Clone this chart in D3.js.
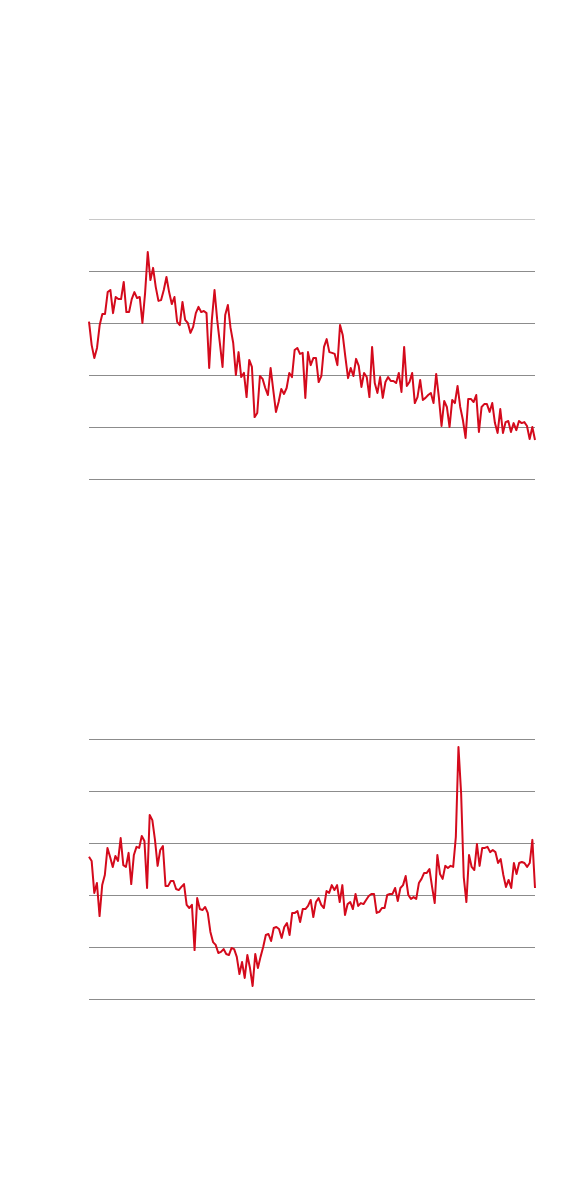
<!DOCTYPE html>
<meta charset="utf-8">
<style>
body { margin: 0; background: #fff; }
.grid line { stroke: #8c8c8c; stroke-width: 1px; shape-rendering: crispEdges; }
.grid .top line { stroke: #c8c8c8; }
.line { fill: none; stroke: #d40a1c; stroke-width: 2px; stroke-linejoin: round; }
</style>
<svg width="576" height="1192"></svg>
<script src="https://d3js.org/d3.v7.min.js"></script>
<script>

// values, scale 0..100 (gridline every 20)
var gridTicks = [0, 20, 40, 60, 80, 100];

var seriesA = [
  60.5, 51.5, 46.5, 50.4, 59.2, 63.5, 63.5, 71.9, 72.7, 63.8,
  70.0, 69.2, 69.2, 75.8, 64.2, 64.2, 69.2, 71.9, 69.6, 70.0,
  60.0, 71.5, 87.3, 76.5, 81.2, 73.8, 68.5, 68.8, 72.7, 77.7,
  71.9, 67.3, 70.0, 60.4, 59.2, 68.1, 61.2, 60.0, 56.2, 58.5,
  63.8, 66.2, 64.2, 64.6, 63.8, 42.7, 61.2, 72.7, 61.2, 52.3,
  43.1, 63.1, 66.9, 58.1, 52.3, 40.0, 48.8, 39.2,
  40.8, 31.5, 45.8, 43.1, 23.8, 25.4, 39.6, 38.5, 35.0, 32.3,
  42.7, 34.2, 25.8, 29.6, 34.6, 32.7, 35.0, 40.8, 39.2, 49.6,
  50.4, 48.1, 48.5, 31.2, 48.8, 43.8, 46.5, 46.5, 37.3, 39.6,
  50.8, 53.8, 48.8, 48.5, 48.1, 43.8, 59.2, 55.4, 46.9, 38.8,
  42.7, 39.6, 46.2, 43.5, 35.4, 40.8, 39.2, 31.5, 50.8, 36.9,
  33.1, 39.2, 31.2, 37.3, 39.2,
  37.7, 37.7, 36.9, 40.8, 33.5, 50.8, 35.8, 37.3, 40.8, 29.2,
  31.5, 38.1, 30.4, 31.2, 32.3, 33.1, 29.2, 40.4, 31.5, 20.4,
  30.0, 27.7, 20.0, 30.4, 29.2, 35.8, 27.7, 22.7, 15.8, 30.8,
  30.8, 29.6, 32.3, 18.1, 27.7, 28.8, 28.8, 25.8, 29.2, 21.5,
  17.7, 26.9, 17.7, 21.9, 22.3, 18.1, 21.5, 18.8, 22.3, 21.5,
  21.9, 20.4, 15.4, 20.0, 15.0
];

var seriesB = [
  54.7, 53.1, 40.8, 44.6, 31.9, 43.8, 47.7, 58.1, 54.6, 50.8,
  55.0, 53.1, 61.9, 51.5, 50.8, 56.2, 44.2, 55.4, 58.5, 58.1,
  62.7, 60.8, 42.7, 70.8, 68.8, 61.2, 51.2, 57.3, 58.8, 43.5,
  43.5, 45.4, 45.4, 42.3, 41.9, 43.1, 44.2, 36.2, 35.0, 36.2,
  18.8, 38.8, 34.6, 34.2, 35.4, 33.1, 25.8, 21.9, 20.8, 17.7,
  18.1, 19.2, 17.3, 16.9, 19.6, 19.2, 16.2, 9.6, 14.2, 8.1,
  16.9, 11.9, 5.0, 17.3, 11.9, 16.2, 20.0, 24.6, 25.0, 22.3,
  27.3, 27.7, 26.9, 23.5, 27.7, 29.2, 24.6, 33.1, 33.1, 33.8,
  29.6, 34.6, 34.6, 35.8, 38.1, 31.5, 37.3, 38.8, 36.2, 35.0,
  41.5, 40.8, 43.8, 41.9, 43.8, 37.3, 43.8, 32.3, 36.5, 37.3,
  34.6, 40.4, 35.8, 36.9, 36.5, 38.1, 39.6, 40.4, 40.4, 33.1,
  33.5, 35.0, 35.0, 40.0, 40.4,
  40.4, 42.7, 37.7, 42.7, 43.8, 47.3, 40.0, 38.5, 39.2, 38.5,
  44.6, 46.2, 48.5, 48.5, 50.0, 43.1, 36.9, 55.4, 48.1, 46.2,
  51.2, 50.4, 51.2, 50.8, 62.3, 96.9, 79.2, 46.9, 37.3, 55.4,
  50.8, 49.6, 59.6, 51.2, 58.1, 58.1, 58.5, 56.5, 57.3, 56.5,
  52.3, 53.8, 47.7, 43.1, 45.8, 42.7, 52.3, 48.1, 52.3, 52.7,
  52.3, 50.8, 52.3, 61.2, 42.7
];

var svg = d3.select("svg");
var left = 89, right = 535, plotH = 260;

function drawPanel(values, top, lightTop) {
  var g = svg.append("g").attr("transform", "translate(0," + top + ")");

  var x = d3.scaleLinear()
      .domain([0, values.length - 1])
      .range([left, right]);
  var y = d3.scaleLinear()
      .domain([0, 100])
      .range([plotH, 0]);

  var grid = g.append("g")
      .attr("class", "grid")
      .attr("transform", "translate(" + left + ",0)")
      .call(d3.axisLeft(y).tickValues(gridTicks).tickSize(-(right - left)).tickFormat(""));
  grid.select(".domain").remove();
  if (lightTop) {
    grid.selectAll(".tick").filter(function(d) { return d === 100; }).classed("top", true);
  }

  var line = d3.line()
      .x(function(d, i) { return x(i); })
      .y(function(d) { return y(d); });

  g.append("path")
      .datum(values)
      .attr("class", "line")
      .attr("d", line);
}

drawPanel(seriesA, 219, true);
drawPanel(seriesB, 739, false);

</script>
